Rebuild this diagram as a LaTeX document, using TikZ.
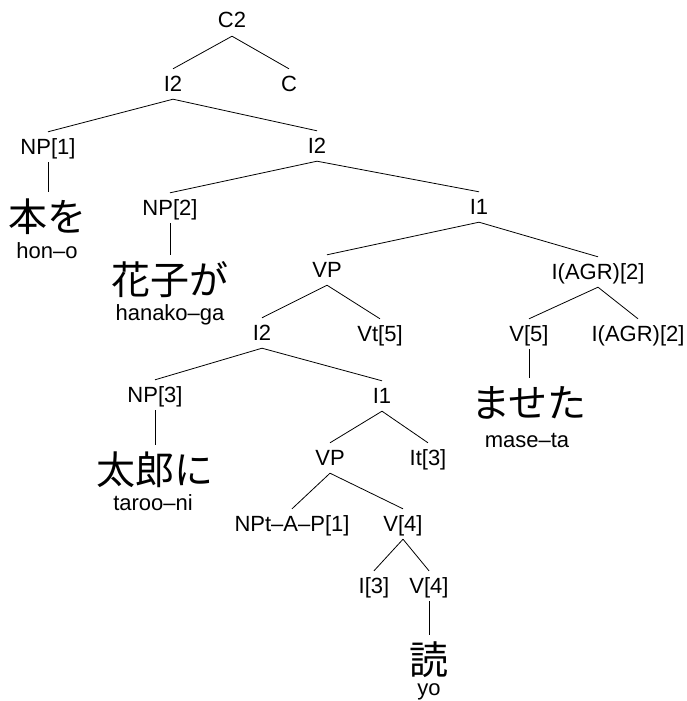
\documentclass[tikz,border=0pt]{standalone}
\usepackage{fontspec}
\setmainfont{Liberation Sans}
\newfontfamily\jpfont{Noto Sans CJK JP}
\usepackage{tikz}
\tikzset{
x=1pt, y=-1pt, % one unit is one pixel, y grows downwards
cat/.style={font=\fontsize{22}{26}\selectfont, inner sep=0pt, text height=22pt, text depth=8pt, anchor=base}, % category labels
word/.style={font=\jpfont\fontsize{39}{44}\selectfont, inner sep=0pt, text height=39pt, text depth=4pt, anchor=base}, % japanese words
gloss/.style={font=\fontsize{22}{26}\selectfont, inner sep=0pt, anchor=base}, % readings under the words
every edge/.style={draw, line width=0.8pt}, % thin branches
}

\begin{document}
\begin{tikzpicture}
        \useasboundingbox (0,0) rectangle (687,701);

        \node[cat] (c2) at (232,28) {C2};
        \node[cat] (i2a) at (173,91) {I2};
        \node[cat] (c) at (289,91) {C};
        \node[cat] (np1) at (48,154) {NP[1]};
        \node[cat] (i2b) at (317,153) {I2};
        \node[cat] (np2) at (170,215) {NP[2]};
        \node[cat] (i1a) at (479,214) {I1};
        \node[cat] (vpa) at (327,277) {VP};
        \node[cat] (agra) at (598,279) {I(AGR)[2]};
        \node[cat] (i2c) at (262,340) {I2};
        \node[cat] (vt5) at (380,341) {Vt[5]};
        \node[cat] (v5) at (529,341) {V[5]};
        \node[cat] (agrb) at (638,341) {I(AGR)[2]};
        \node[cat] (np3) at (155,402) {NP[3]};
        \node[cat] (i1b) at (382,403) {I1};
        \node[cat] (vpb) at (330,465) {VP};
        \node[cat] (it3) at (428,465) {It[3]};
        \node[cat] (npt) at (292,531) {NPt--A--P[1]};
        \node[cat] (v4a) at (403,531) {V[4]};
        \node[cat] (i3) at (374,593) {I[3]};
        \node[cat] (v4b) at (429,593) {V[4]};

        \node[word] (hon) at (48,231) {本を};
        \node[word] (hana) at (170,294) {花子が};
        \node[word] (taro) at (155,484) {太郎に};
        \node[word] (mase) at (529,417) {ませた};
        \node[word] (yomi) at (429,674) {読};

        \node[gloss] (honr) at (47,258) {hon--o};
        \node[gloss] (hanar) at (170,320) {hanako--ga};
        \node[gloss] (taror) at (153,510) {taroo--ni};
        \node[gloss] (maser) at (527,447) {mase--ta};
        \node[gloss] (yomir) at (429,695) {yo};

        \draw (c2.south) edge (i2a.north)
                         edge (c.north)
              (i2a.south) edge (np1.north)
                          edge (i2b.north)
              (np1.south) edge (hon.north)
              (i2b.south) edge (np2.north)
                          edge (i1a.north)
              (np2.south) edge (hana.north)
              (i1a.south) edge (vpa.north)
                          edge (agra.north)
              (vpa.south) edge (i2c.north)
                          edge (vt5.north)
              (agra.south) edge (v5.north)
                           edge (agrb.north)
              (v5.south) edge (mase.north)
              (i2c.south) edge (np3.north)
                          edge (i1b.north)
              (np3.south) edge (taro.north)
              (i1b.south) edge (vpb.north)
                          edge (it3.north)
              (vpb.south) edge (npt.north)
                          edge (v4a.north)
              (v4a.south) edge (i3.north)
                          edge (v4b.north)
              (v4b.south) edge (yomi.north);
    \end{tikzpicture}
\end{document}
